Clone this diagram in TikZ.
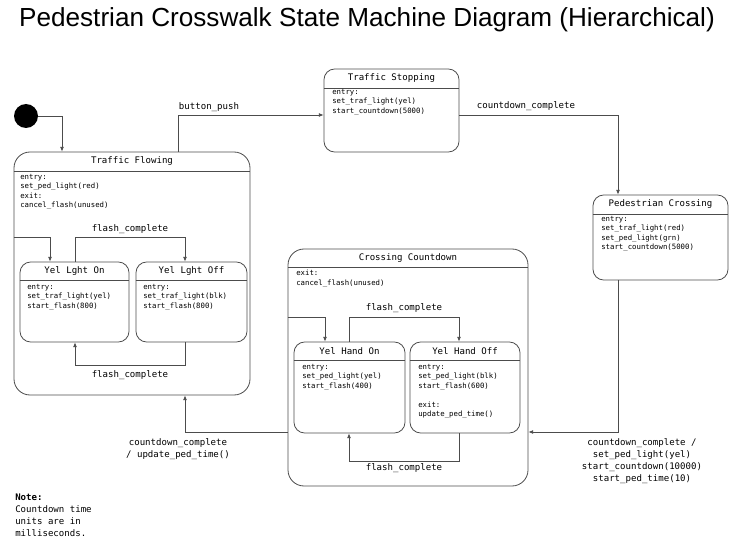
\documentclass[tikz,border=0pt]{standalone}
\usepackage{fontspec}
\setmainfont{Liberation Sans}
\newfontfamily\monofont{DejaVu Sans Mono}
\usetikzlibrary{positioning,fit,calc,arrows.meta}

\tikzset{
  wire/.style={draw=black!70, line width=0.6pt},
  statebox/.style={wire, rounded corners=8pt, inner sep=0pt},
  superbox/.style={statebox, rounded corners=12pt},
  stname/.style={font=\monofont\fontsize{6.8}{8}\selectfont, inner sep=0pt},
  stbody/.style={font=\monofont\fontsize{5.5}{7.1}\selectfont, anchor=north west, align=left, inner sep=0pt},
  trlabel/.style={font=\monofont\fontsize{6.8}{8.8}\selectfont, align=center, inner sep=0pt},
  arr/.style={wire, -{Latex[length=3.5pt,width=3pt]}},
  initdot/.style={circle, fill=black, minimum size=18pt, inner sep=0pt},
}

\begin{document}
\begin{tikzpicture}[x=0.75pt, y=-0.75pt]
    \useasboundingbox (0,0) rectangle (743,549);

    % Step 1: title
    \node[font=\fontsize{19.6}{23}\selectfont, anchor=base] (title) at (367,27)
        {Pedestrian Crosswalk State Machine Diagram (Hierarchical)};

    % Step 2: state boxes
    \node[superbox, fit={(14,152) (250,395)}] (tflow) {};
    \node[statebox, fit={(20,262) (129,342)}] (ylon) {};
    \node[statebox, fit={(136,262) (247,342)}] (ylof) {};
    \node[statebox, fit={(324,69) (459,152)}] (tstop) {};
    \node[statebox, fit={(593,195) (728,280)}] (pcross) {};
    \node[superbox, fit={(288,249) (528,486)}] (ccount) {};
    \node[statebox, fit={(294,342) (405,433)}] (yhon) {};
    \node[statebox, fit={(410,342) (520,433)}] (yhof) {};

    % Step 3: header lines and state names
    \foreach \st/\hy/\name in {tflow/171/Traffic Flowing, ylon/280/Yel Lght On, ylof/280/Yel Lght Off,
        tstop/88/Traffic Stopping, pcross/214/Pedestrian Crossing, ccount/267/Crossing Countdown,
        yhon/360/Yel Hand On, yhof/360/Yel Hand Off} {
        \coordinate (hd) at (0,\hy);
        \draw[wire] (\st.west |- hd) -- (\st.east |- hd);
        \node[stname] (\st-name) at ($(\st.north)!0.5!(\st.north |- hd)$) {\name};
    }

    % Step 4: state actions
    \node[stbody] (tflow-body) at (20,174) {entry:\\set\_ped\_light(red)\\exit:\\cancel\_flash(unused)};
    \node[stbody] (ylon-body) at (27,284) {entry:\\set\_traf\_light(yel)\\start\_flash(800)};
    \node[stbody] (ylof-body) at (143,284) {entry:\\set\_traf\_light(blk)\\start\_flash(800)};
    \node[stbody] (tstop-body) at (332,89) {entry:\\set\_traf\_light(yel)\\start\_countdown(5000)};
    \node[stbody] (pcross-body) at (601,216) {entry:\\set\_traf\_light(red)\\set\_ped\_light(grn)\\start\_countdown(5000)};
    \node[stbody] (ccount-body) at (296,270) {exit:\\cancel\_flash(unused)};
    \node[stbody] (yhon-body) at (302,364) {entry:\\set\_ped\_light(yel)\\start\_flash(400)};
    \node[stbody] (yhof-body) at (418,364) {entry:\\set\_ped\_light(blk)\\start\_flash(600)\\[7.1pt]exit:\\update\_ped\_time()};

    % Step 5: initial state
    \node[initdot] (init) at (26,116) {};
    \coordinate (c1) at (62,116);
    \draw[arr] (init) -- (c1) -- (tflow.north -| c1);

    % Step 6: top level transitions
    \coordinate (c2) at (178,115);
    \draw[arr] (tflow.north -| c2) -- (c2) -- (tstop.west |- c2);
    \node[trlabel] (l-push) at (209,107) {button\_push};

    \coordinate (c3) at (618,115);
    \draw[arr] (tstop.east |- c3) -- (c3) -- (pcross.north -| c3);
    \node[trlabel] (l-cc1) at (526,106) {countdown\_complete};

    \coordinate (c4) at (618,432);
    \draw[arr] (pcross.south -| c4) -- (c4) -- (ccount.east |- c4);
    \node[trlabel] (l-cc2) at (642,461) {countdown\_complete /\\set\_ped\_light(yel)\\start\_countdown(10000)\\start\_ped\_time(10)};

    \coordinate (c5) at (185,432);
    \draw[arr] (ccount.west |- c5) -- (c5) -- (tflow.south -| c5);
    \node[trlabel] (l-cc3) at (178,449) {countdown\_complete\\/ update\_ped\_time()};

    % Step 7: inside Traffic Flowing
    \coordinate (c6) at (50,237);
    \draw[arr] (tflow.west |- c6) -- (c6) -- (ylon.north -| c6);
    \coordinate (c7a) at (75,237);
    \coordinate (c7b) at (185,237);
    \draw[arr] (ylon.north -| c7a) -- (c7a) -- (c7b) -- (ylof.north -| c7b);
    \node[trlabel] (l-fl1) at (130,229) {flash\_complete};
    \coordinate (c8a) at (185,365);
    \coordinate (c8b) at (75,365);
    \draw[arr] (ylof.south -| c8a) -- (c8a) -- (c8b) -- (ylon.south -| c8b);
    \node[trlabel] (l-fl2) at (130,375) {flash\_complete};

    % Step 8: inside Crossing Countdown
    \coordinate (c9) at (325,317);
    \draw[arr] (ccount.west |- c9) -- (c9) -- (yhon.north -| c9);
    \coordinate (c10a) at (349,317);
    \coordinate (c10b) at (459,317);
    \draw[arr] (yhon.north -| c10a) -- (c10a) -- (c10b) -- (yhof.north -| c10b);
    \node[trlabel] (l-fl3) at (404,308) {flash\_complete};
    \coordinate (c11a) at (459,461);
    \coordinate (c11b) at (349,461);
    \draw[arr] (yhof.south -| c11a) -- (c11a) -- (c11b) -- (yhon.south -| c11b);
    \node[trlabel] (l-fl4) at (404,468) {flash\_complete};

    % Step 9: note
    \node[trlabel, anchor=north west, align=left] (note) at (15,494)
        {\textbf{Note:}\\Countdown time\\units are in\\milliseconds.};

\end{tikzpicture}
\end{document}
